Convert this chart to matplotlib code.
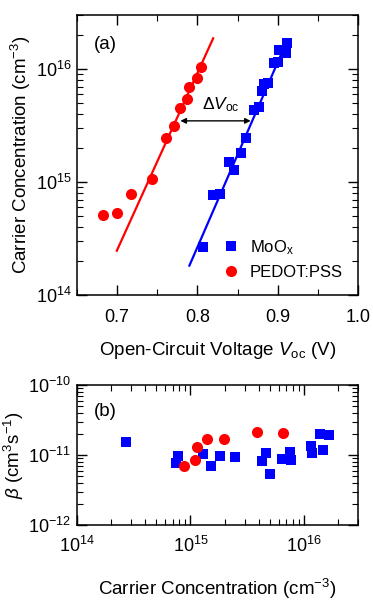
import matplotlib
matplotlib.use("Agg")
import matplotlib.pyplot as plt
from matplotlib.ticker import MultipleLocator, LogLocator, NullFormatter
import numpy as np

plt.rcParams['font.family'] = ['Liberation Sans', 'DejaVu Sans']
plt.rcParams['mathtext.fontset'] = 'custom'
plt.rcParams['mathtext.rm'] = 'Liberation Sans'
plt.rcParams['mathtext.it'] = 'Liberation Sans:italic'
plt.rcParams['mathtext.bf'] = 'Liberation Sans:bold'

# panel (a): carrier concentration vs Voc
moox_voc = [0.8067, 0.819, 0.828, 0.839, 0.8454, 0.8538, 0.860, 0.871, 0.8766,
            0.880, 0.8829, 0.8883, 0.8954, 0.900, 0.9016, 0.910, 0.9113]
moox_n = [2.67e14, 7.7e14, 7.8e14, 1.51e15, 1.28e15, 1.82e15, 2.44e15, 4.3e15, 4.6e15,
          6.4e15, 7.4e15, 7.5e15, 1.14e16, 1.15e16, 1.47e16, 1.38e16, 1.69e16]
pedot_voc = [0.6829, 0.6996, 0.717, 0.7433, 0.7613, 0.7713, 0.778, 0.787, 0.790, 0.800, 0.804]
pedot_n = [5.1e14, 5.3e14, 7.8e14, 1.06e15, 2.47e15, 3.15e15, 4.5e15, 5.4e15, 6.9e15, 8.3e15, 1.05e16]

# linear fits of log10(n) vs Voc: (V0, log10 n at V0, decades per volt, V end)
moox_fit = (0.790, 14.26, 16.37, 0.9113)
pedot_fit = (0.6996, 14.392, 15.67, 0.8196)

# panel (b): beta vs carrier concentration
moox_nb = [2.7e14, 7.8e14, 7.5e14, 1.3e15, 1.51e15, 1.83e15, 2.45e15, 4.3e15, 4.65e15,
           5.0e15, 6.4e15, 7.5e15, 7.7e15, 1.15e16, 1.17e16, 1.38e16, 1.47e16, 1.65e16]
moox_beta = [1.55e-11, 9.7e-12, 7.6e-12, 1.03e-11, 7.0e-12, 9.7e-12, 9.5e-12, 8.3e-12, 1.06e-11,
             5.3e-12, 8.7e-12, 1.11e-11, 8.5e-12, 1.35e-11, 1.06e-11, 2.0e-11, 1.18e-11, 1.91e-11]
pedot_nb = [8.8e14, 1.1e15, 1.14e15, 1.41e15, 1.99e15, 3.9e15, 6.5e15]
pedot_beta = [7.0e-12, 8.5e-12, 1.31e-11, 1.69e-11, 1.69e-11, 2.15e-11, 2.1e-11]

fig = plt.figure(figsize=(3.73, 6.07), dpi=100)
ax1 = fig.add_axes([0.2064, 0.514, 0.7534, 0.461])
ax2 = fig.add_axes([0.2064, 0.135, 0.7534, 0.2306])

blue = '#0000ff'
red = '#ff0000'
lab_fs = 13.5
tick_fs = 13

for fit, col in [(moox_fit, blue), (pedot_fit, red)]:
    v = np.array([fit[0], fit[3]])
    ax1.plot(v, 10 ** (fit[1] + fit[2] * (v - fit[0])), color=col, lw=1.6, zorder=2)

ax1.plot(moox_voc, moox_n, 's', color=blue, ms=7.2, mew=0, label='MoO$_{\\rm x}$', zorder=3)
ax1.plot(pedot_voc, pedot_n, 'o', color=red, ms=8, mew=0, label='PEDOT:PSS', zorder=3)

ax1.set_yscale('log')
ax1.set_xlim(0.65, 1.0)
ax1.set_ylim(1e14, 3e16)
ax1.xaxis.set_major_locator(MultipleLocator(0.1))
ax1.xaxis.set_minor_locator(MultipleLocator(0.05))
ax1.xaxis.set_major_formatter(plt.FormatStrFormatter('%.1f'))
ax1.set_xlabel('Open-Circuit Voltage $V_{\\rm oc}$ (V)', fontsize=lab_fs, labelpad=10)
ax1.set_ylabel('Carrier Concentration (cm$^{-3}$)', fontsize=lab_fs, labelpad=2)

ax1.annotate('', xy=(0.7788, 3.48e15), xytext=(0.8663, 3.48e15),
             arrowprops=dict(arrowstyle='<|-|>', color='black', lw=1.0,
                             mutation_scale=8, shrinkA=0, shrinkB=0))
ax1.text(0.8288, 4.8e15, '$\\Delta V_{\\rm oc}$', ha='center', va='center', fontsize=12.5)
ax1.text(0.06, 0.925, '(a)', transform=ax1.transAxes, ha='left', va='top', fontsize=lab_fs)

ax1.legend(loc='lower right', bbox_to_anchor=(1.0, 0.0), frameon=False, fontsize=12,
           handlelength=1.0, handletextpad=0.64, labelspacing=0.5, borderaxespad=0.5,
           markerscale=1.0)

ax2.plot(moox_nb, moox_beta, 's', color=blue, ms=7.2, mew=0, zorder=3)
ax2.plot(pedot_nb, pedot_beta, 'o', color=red, ms=8, mew=0, zorder=3)
ax2.set_xscale('log')
ax2.set_yscale('log')
ax2.set_xlim(1e14, 3e16)
ax2.set_ylim(1e-12, 1e-10)
ax2.set_xlabel('Carrier Concentration (cm$^{-3}$)', fontsize=lab_fs, labelpad=15)
ax2.set_ylabel('$\\it{\\beta}$ (cm$^{3}$s$^{-1}$)', fontsize=lab_fs, labelpad=2)
ax2.text(0.06, 0.875, '(b)', transform=ax2.transAxes, ha='left', va='top', fontsize=lab_fs)

for ax in (ax1, ax2):
    ax.tick_params(which='both', direction='in', top=True, right=True, labelsize=tick_fs)
    ax.tick_params(which='major', length=7, width=1.0)
    ax.tick_params(which='minor', length=4, width=0.8)
    ax.tick_params(axis='y', pad=4)
    for s in ax.spines.values():
        s.set_linewidth(1.1)
ax1.tick_params(axis='x', pad=10)
ax2.tick_params(axis='x', pad=8)

for axis in (ax1.yaxis, ax2.xaxis, ax2.yaxis):
    axis.set_minor_locator(LogLocator(base=10, subs=np.arange(2, 10), numticks=20))
    axis.set_minor_formatter(NullFormatter())

fig.savefig('out.png', dpi=100)
